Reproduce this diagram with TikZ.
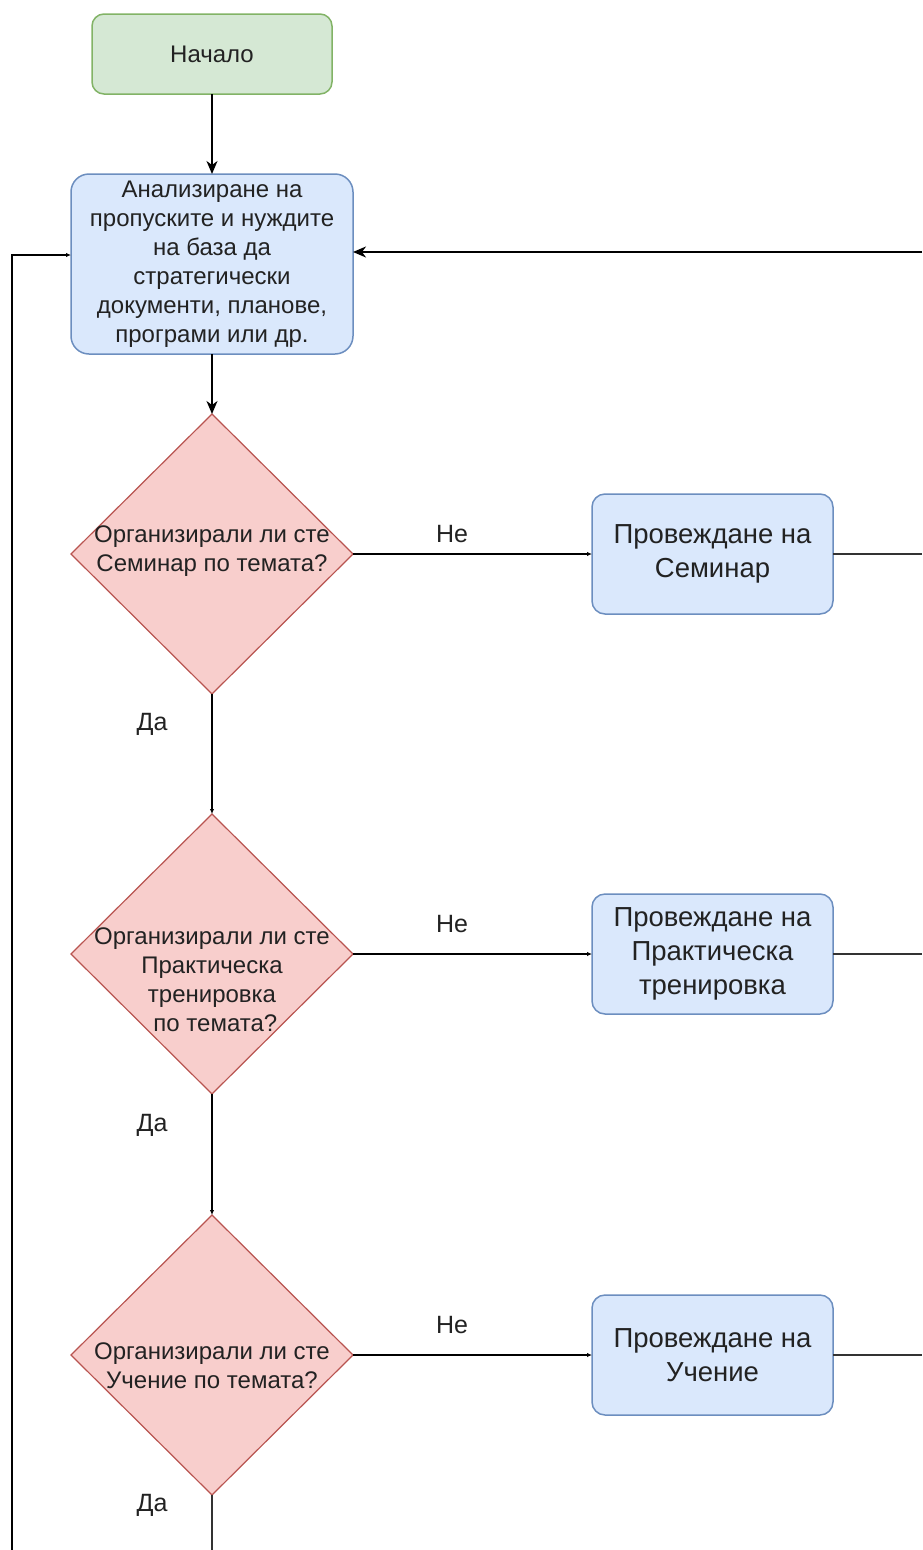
\documentclass[tikz,border=0pt]{standalone}
\usepackage{fontspec}
\setmainfont{Liberation Sans}
\usetikzlibrary{shapes.geometric,arrows.meta}
\definecolor{gfill}{HTML}{D5E8D4}
\definecolor{gline}{HTML}{82B366}
\definecolor{bfill}{HTML}{DAE8FC}
\definecolor{bline}{HTML}{6C8EBF}
\definecolor{rfill}{HTML}{F8CECC}
\definecolor{rline}{HTML}{B85450}
\definecolor{txt}{HTML}{222222}
\begin{document}
\begin{tikzpicture}[x=1pt,y=-1pt,
  every node/.style={inner sep=0pt,outer sep=0pt,text=txt,align=center},
  smalltxt/.style={font=\fontsize{24}{29}\selectfont},
  bigtxt/.style={font=\fontsize{27.5}{34}\selectfont},
  labtxt/.style={font=\fontsize{25}{30}\selectfont},
  startbox/.style={draw=gline,fill=gfill,line width=1.5pt,rounded corners=12pt,minimum width=240pt,minimum height=80pt,smalltxt},
  analbox/.style={draw=bline,fill=bfill,line width=1.5pt,rounded corners=18pt,minimum width=282pt,minimum height=180pt,smalltxt},
  actbox/.style={draw=bline,fill=bfill,line width=1.5pt,rounded corners=13pt,minimum width=241pt,minimum height=120pt,bigtxt},
  decision/.style={diamond,draw=rline,fill=rfill,line width=1.2pt,minimum width=282pt,minimum height=280pt,aspect=1},
  bigarrow/.style={draw=black,line width=1.5pt,-{Stealth[length=13pt,width=11pt,inset=4pt]}},
  smallarrow/.style={draw=black,line width=1.3pt,-{Latex[length=5pt,width=4.5pt]}},
  plainline/.style={draw=black!80,line width=1.5pt}
]
\useasboundingbox (0,0) rectangle (922,1550);

\node[startbox] (start) at (212,54) {Начало};
\node[analbox] (anal) at (212,264) {Анализиране на\\пропуските и нуждите\\на база да\\стратегически\\документи, планове,\\програми или др.};

\node[decision] (d1) at (212,554) {};
\node[smalltxt] (t1) at (212,551) {Организирали ли сте\\Семинар по темата?};
\node[actbox] (b1) at (712.5,554) {Провеждане на\\Семинар};

\node[decision] (d2) at (212,954) {};
\node[smalltxt] (t2) at (212,980) {Организирали ли сте\\Практическа\\тренировка\\\ по темата?};
\node[actbox] (b2) at (712.5,954) {Провеждане на\\Практическа\\тренировка};

\node[decision] (d3) at (212,1355) {};
\node[smalltxt] (t3) at (212,1366) {Организирали ли сте\\Учение по темата?};
\node[actbox] (b3) at (712.5,1355) {Провеждане на\\Учение};

\node[labtxt] (ne1) at (452,534) {Не};
\node[labtxt] (ne2) at (452,924) {Не};
\node[labtxt] (ne3) at (452,1325) {Не};
\node[labtxt] (da1) at (152,724) {Да};
\node[labtxt] (da2) at (152,1125) {Да};
\node[labtxt] (da3) at (152,1505) {Да};

\coordinate (rin) at (922,252);
\coordinate (r1) at (922,554);
\coordinate (r2) at (922,954);
\coordinate (r3) at (922,1355);
\coordinate (lb) at (12,1550);
\coordinate (lt) at (12,255);
\coordinate (bot) at (212,1550);

\draw[bigarrow] (start) -- (anal);
\draw[bigarrow] (anal) -- (d1.north);
\draw[bigarrow] (rin) -- (rin -| anal.east);
\draw[smallarrow] (lb) -- (lt) -- (lt -| anal.west);

\draw[smallarrow] (d1.east) -- (b1.west);
\draw[smallarrow] (d2.east) -- (b2.west);
\draw[smallarrow] (d3.east) -- (b3.west);
\draw[plainline] (b1.east) -- (r1);
\draw[plainline] (b2.east) -- (r2);
\draw[plainline] (b3.east) -- (r3);

\draw[smallarrow] (d1.south) -- (d2.north);
\draw[smallarrow] (d2.south) -- (d3.north);
\draw[plainline] (d3.south) -- (bot);
\end{tikzpicture}
\end{document}
